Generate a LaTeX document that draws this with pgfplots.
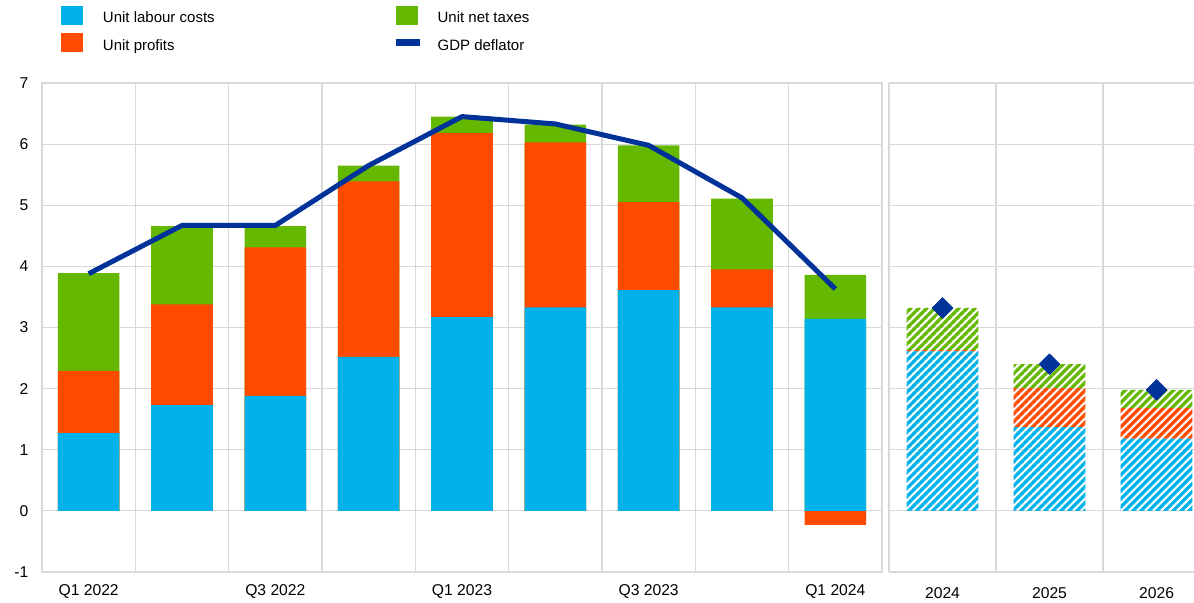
\documentclass[border=0pt]{standalone}
\usepackage{fontspec}
\setmainfont{Liberation Sans}
\usepackage{pgfplots}
\pgfplotsset{compat=1.18}
\usetikzlibrary{patterns.meta}

\definecolor{ecbblue}{HTML}{00B1EA}
\definecolor{ecbred}{HTML}{FF4B00}
\definecolor{ecbgreen}{HTML}{65B800}
\definecolor{ecbnavy}{HTML}{003299}
\definecolor{gridgray}{HTML}{D9D9D9}

\pgfplotsset{
  panel/.style={
    anchor=south west, scale only axis, height=293.4pt,
    ymin=-1, ymax=7, ytick={-1,0,...,7},
    ymajorgrids, xminorgrids,
    grid style={draw=gridgray, line width=0.7pt},
    minor grid style={draw=gridgray, line width=0.7pt},
    axis line style={draw=gridgray, line width=0.8pt},
    major tick length=0pt, minor tick length=0pt,
    tick style={draw=none},
    /pgf/number format/assume math mode=true,
    tick label style={font=\fontsize{9.4pt}{11pt}\selectfont},
    yticklabel style={xshift=-5pt},
    xticklabel style={yshift=-4.5pt},
  },
  hatch/.style={draw=none, pattern={Lines[angle=45,distance=3.4pt,line width=2pt]}, pattern color=#1},
}

\begin{document}
\fontsize{9pt}{11pt}\selectfont
\begin{tikzpicture}
\useasboundingbox (-25.2pt,-18pt) rectangle (691.2pt,343.2pt);

% quarterly panel
\begin{axis}[panel,
  at={(0pt,0pt)}, width=504pt,
  xmin=-0.5, xmax=8.5,
  xtick={0,2,4,6,8},
  xticklabels={Q1 2022,Q3 2022,Q1 2023,Q3 2023,Q1 2024},
  minor xtick={0.5,1.5,...,7.5},
  legend columns=2,
  legend style={at={(0.0226,1.159)}, anchor=north west, draw=none, fill=none,
    inner sep=0pt, font=\fontsize{9pt}{11pt}\selectfont,
    nodes={inner sep=0pt},
    /tikz/every odd column/.append style={column sep=12pt},
    /tikz/every even column/.append style={column sep=0pt},
    row sep=4.8pt},
  legend cell align=left,
]
% totals (green), labour + profits (red), labour (blue), drawn on top of each other
\addplot[ybar, bar width=0.66, bar shift=0pt, fill=ecbgreen, draw=none, forget plot] coordinates {
(0,3.89) (1,4.66) (2,4.66) (3,5.65) (4,6.45) (5,6.32) (6,5.98) (7,5.11) (8,3.86)};
\addplot[ybar, bar width=0.66, bar shift=0pt, fill=ecbred, draw=none, forget plot] coordinates {
(0,2.29) (1,3.38) (2,4.31) (3,5.39) (4,6.18) (5,6.03) (6,5.05) (7,3.95) (8,-0.23)};
\addplot[ybar, bar width=0.66, bar shift=0pt, fill=ecbblue, draw=none, forget plot] coordinates {
(0,1.27) (1,1.73) (2,1.88) (3,2.52) (4,3.17) (5,3.33) (6,3.61) (7,3.33) (8,3.14)};
\addplot[ecbnavy, line width=3pt, line join=round, mark=none, forget plot] coordinates {
(0,3.88) (1,4.67) (2,4.67) (3,5.65) (4,6.45) (5,6.33) (6,5.98) (7,5.12) (8,3.63)};

\addlegendimage{legend image code/.code={\fill[ecbblue] (0pt,-3.3pt) rectangle (12.6pt,7.5pt);}}
\addlegendentry{\makebox[175.8pt][l]{Unit labour costs}}
\addlegendimage{legend image code/.code={\fill[ecbgreen] (0pt,-3.3pt) rectangle (12.6pt,7.5pt);}}
\addlegendentry{Unit net taxes}
\addlegendimage{legend image code/.code={\fill[ecbred] (0pt,-3.3pt) rectangle (12.6pt,7.5pt);}}
\addlegendentry{Unit profits}
\addlegendimage{legend image code/.code={\path[draw=none, fill=none] (0pt,-3.3pt) rectangle (12.6pt,7.5pt);
  \draw[overlay, ecbnavy, line width=4.4pt] (0pt,2.1pt) -- (14.4pt,2.1pt);}}
\addlegendentry{GDP deflator}
\end{axis}

% annual projections panel
\begin{axis}[panel,
  at={(508.2pt,0pt)}, width=183pt,
  xmin=-0.5, xmax=2.35,
  xtick={0,1,2}, xticklabels={2024,2025,2026},
  xticklabel style={yshift=-1.5pt},
  minor xtick={0.5,1.5},
  yticklabels={},
  axis x line*=bottom, axis y line*=left,
  ybar stacked, bar width=0.67,
]
\addplot[hatch=ecbblue] coordinates {(0,2.61) (1,1.37) (2,1.18)};
\addplot[hatch=ecbred] coordinates {(0,0.02) (1,0.64) (2,0.50)};
\addplot[hatch=ecbgreen] coordinates {(0,0.69) (1,0.39) (2,0.30)};
\end{axis}

% deflator projections
\begin{axis}[
  anchor=south west, scale only axis, at={(508.2pt,0pt)}, width=183pt, height=293.4pt,
  xmin=-0.5, xmax=2.35, ymin=-1, ymax=7, hide axis, clip=false,
]
\addplot[only marks, mark=square*, mark size=4.4pt,
  mark options={rotate=45, fill=ecbnavy, draw=ecbnavy, line join=round}]
  coordinates {(0,3.32) (1,2.40) (2,1.98)};
\end{axis}
\end{tikzpicture}
\end{document}
